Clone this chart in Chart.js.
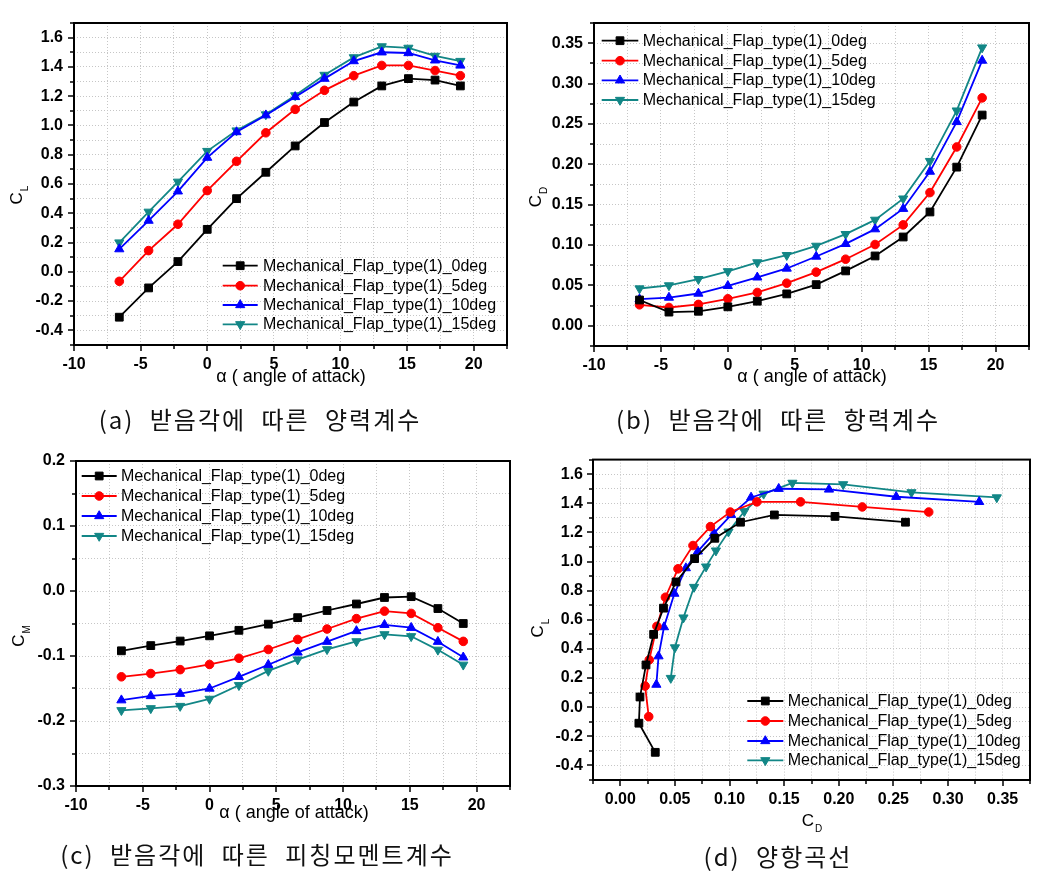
<!DOCTYPE html>
<html>
<head>
<meta charset="utf-8">
<script src="https://cdn.jsdelivr.net/npm/chart.js"></script>
<style>
  html, body { margin: 0; padding: 0; background: #fff; }
  #wrap { position: relative; width: 1047px; height: 880px; overflow: hidden; background: #fff; }
  canvas { position: absolute; }
  .cap { position: absolute; transform: translate(-50%, -50%); font-family: "Noto Sans CJK KR", sans-serif;
         font-size: 24px; letter-spacing: 2px; word-spacing: 8px; white-space: pre; color: #111; }
</style>
</head>
<body>
<div id="wrap">
  <canvas id="ca" width="520" height="440" style="left:0;top:0"></canvas>
  <canvas id="cb" width="527" height="440" style="left:520px;top:0"></canvas>
  <canvas id="cc" width="520" height="440" style="left:0;top:440px"></canvas>
  <canvas id="cd" width="527" height="440" style="left:520px;top:440px"></canvas>
  <div class="cap" style="left:260px;top:418px">(a) 받음각에 따른 양력계수</div>
  <div class="cap" style="left:778px;top:418px">(b) 받음각에 따른 항력계수</div>
  <div class="cap" style="left:257px;top:853px">(c) 받음각에 따른 피칭모멘트계수</div>
  <div class="cap" style="left:778px;top:855px">(d) 양항곡선</div>
</div>
<script>
// ---------------- data ----------------
const seriesNames = ['Mechanical_Flap_type(1)_0deg', 'Mechanical_Flap_type(1)_5deg',
                     'Mechanical_Flap_type(1)_10deg', 'Mechanical_Flap_type(1)_15deg'];
const alpha = [-6.6, -4.4, -2.2, 0.0, 2.2, 4.4, 6.6, 8.8, 11.0, 13.1, 15.1, 17.1, 19.0];

const cl0  = [-0.31, -0.11, 0.07, 0.29, 0.50, 0.68, 0.86, 1.02, 1.16, 1.27, 1.32, 1.31, 1.27];
const cl5  = [-0.065, 0.145, 0.325, 0.555, 0.755, 0.95, 1.11, 1.24, 1.34, 1.41, 1.41, 1.375, 1.34];
const cl10 = [0.155, 0.35, 0.55, 0.78, 0.955, 1.07, 1.195, 1.32, 1.44, 1.50, 1.495, 1.445, 1.41];
const cl15 = [0.20, 0.41, 0.615, 0.825, 0.965, 1.075, 1.205, 1.345, 1.465, 1.54, 1.53, 1.475, 1.44];

const cd0  = [0.032, 0.017, 0.018, 0.0235, 0.0305, 0.0395, 0.051, 0.068, 0.0865, 0.110, 0.141, 0.1965, 0.261];
const cd5  = [0.026, 0.0227, 0.0265, 0.0335, 0.0413, 0.0528, 0.0665, 0.0825, 0.1007, 0.125, 0.165, 0.2215, 0.2823];
const cd10 = [0.033, 0.035, 0.040, 0.0495, 0.060, 0.071, 0.0858, 0.1015, 0.1197, 0.145, 0.191, 0.2525, 0.3285];
const cd15 = [0.0462, 0.050, 0.0578, 0.0675, 0.0785, 0.0875, 0.099, 0.1135, 0.1312, 0.1575, 0.204, 0.2665, 0.3446];

const cm0  = [-0.092, -0.084, -0.077, -0.069, -0.0605, -0.051, -0.041, -0.030, -0.020, -0.010, -0.0087, -0.027, -0.050];
const cm5  = [-0.132, -0.127, -0.121, -0.113, -0.1035, -0.090, -0.0745, -0.0585, -0.0425, -0.031, -0.0345, -0.0565, -0.0775];
const cm10 = [-0.168, -0.1615, -0.158, -0.150, -0.132, -0.1135, -0.0945, -0.078, -0.0615, -0.052, -0.0565, -0.078, -0.102];
const cm15 = [-0.1835, -0.1805, -0.177, -0.166, -0.145, -0.123, -0.1055, -0.0897, -0.0775, -0.0667, -0.0697, -0.0905, -0.1135];

// ---------------- styles ----------------
const COLORS = ['#000000', '#ff0000', '#0000ff', '#128686'];
const MARKERS = [
  { style: 'rect', r: 5.5, rot: 0 },
  { style: 'circle', r: 4.3, rot: 0 },
  { style: 'triangle', r: 5.3, rot: 0 },
  { style: 'triangle', r: 5.3, rot: 180 }
];
const FONT = 'Liberation Sans, Arial, sans-serif';

function makeDataset(xs, ys, i) {
  return {
    label: seriesNames[i],
    data: xs.map((x, k) => ({ x: x, y: ys[k] })),
    borderColor: COLORS[i], backgroundColor: COLORS[i],
    borderWidth: 1.8,
    pointStyle: MARKERS[i].style, pointRadius: MARKERS[i].r, pointRotation: MARKERS[i].rot,
    pointBackgroundColor: COLORS[i], pointBorderColor: COLORS[i], pointBorderWidth: 1,
    pointHoverRadius: MARKERS[i].r,
    tension: 0, fill: false
  };
}

function drawMarker(ctx, i, x, y) {
  const m = MARKERS[i];
  ctx.save();
  ctx.fillStyle = COLORS[i]; ctx.strokeStyle = COLORS[i]; ctx.lineWidth = 1;
  ctx.beginPath();
  if (m.style === 'rect') {
    const s = Math.SQRT1_2 * m.r;
    ctx.rect(x - s, y - s, 2 * s, 2 * s);
  } else if (m.style === 'circle') {
    ctx.arc(x, y, m.r, 0, Math.PI * 2);
  } else {
    let rad = m.rot * Math.PI / 180;
    ctx.moveTo(x + Math.sin(rad) * m.r, y - Math.cos(rad) * m.r);
    rad += 2 * Math.PI / 3;
    ctx.lineTo(x + Math.sin(rad) * m.r, y - Math.cos(rad) * m.r);
    rad += 2 * Math.PI / 3;
    ctx.lineTo(x + Math.sin(rad) * m.r, y - Math.cos(rad) * m.r);
    ctx.closePath();
  }
  ctx.fill(); ctx.stroke();
  ctx.restore();
}

function drawSubText(ctx, x, y, main, sub, rotated, size) {
  ctx.save();
  ctx.translate(x, y);
  if (rotated) ctx.rotate(-Math.PI / 2);
  ctx.fillStyle = '#000';
  ctx.textAlign = 'left'; ctx.textBaseline = 'alphabetic';
  const mf = size + 'px ' + FONT, sf = Math.round(size * 0.6) + 'px ' + FONT;
  ctx.font = mf; const w1 = ctx.measureText(main).width;
  ctx.font = sf; const w2 = ctx.measureText(sub).width;
  const start = -(w1 + w2 + 1) / 2;
  ctx.font = mf; ctx.fillText(main, start, 0);
  ctx.font = sf; ctx.fillText(sub, start + w1 + 1, size * 0.38);
  ctx.restore();
}

function makeScale(pos, min, max, step, isMajor, fmt, size, pad) {
  return {
    type: 'linear', position: pos, min: min, max: max,
    afterFit: function (s) { if (pos === 'bottom') s.height = size; else s.width = size; },
    ticks: {
      stepSize: step, maxTicksLimit: 1000, autoSkip: false, maxRotation: 0, minRotation: 0,
      includeBounds: true, padding: pad, color: '#000',
      font: { family: FONT, size: 16, weight: 'bold' },
      callback: function (v) { return isMajor(v) ? fmt(v) : ''; }
    },
    grid: { color: '#c6c6c6', lineWidth: 1, drawTicks: false },
    border: { display: false, dash: [1, 2] }
  };
}

function decorPlugin(cfg) {
  return {
    id: 'decor',
    afterDraw: function (chart) {
      const ctx = chart.ctx, a = chart.chartArea, xs = chart.scales.x, ys = chart.scales.y;
      ctx.save();
      ctx.strokeStyle = '#000'; ctx.lineWidth = 1.5;
      xs.ticks.forEach(function (t) {
        const px = Math.round(xs.getPixelForValue(t.value));
        const len = cfg.xMajor(t.value) ? 6 : 4;
        ctx.beginPath(); ctx.moveTo(px, a.bottom); ctx.lineTo(px, a.bottom + len); ctx.stroke();
      });
      ys.ticks.forEach(function (t) {
        const py = Math.round(ys.getPixelForValue(t.value));
        const len = cfg.yMajor(t.value) ? 6 : 4;
        ctx.beginPath(); ctx.moveTo(a.left, py); ctx.lineTo(a.left - len, py); ctx.stroke();
      });
      ctx.lineWidth = 2;
      ctx.strokeRect(a.left, a.top, a.right - a.left, a.bottom - a.top);
      // legend
      const L = cfg.legend;
      for (let i = 0; i < 4; i++) {
        const yy = L.ys[i];
        ctx.strokeStyle = COLORS[i]; ctx.lineWidth = 1.8;
        ctx.beginPath(); ctx.moveTo(L.x0, yy); ctx.lineTo(L.x1, yy); ctx.stroke();
        drawMarker(ctx, i, (L.x0 + L.x1) / 2, yy);
        ctx.fillStyle = '#000'; ctx.font = '16px ' + FONT;
        ctx.textAlign = 'left'; ctx.textBaseline = 'middle';
        ctx.fillText(seriesNames[i], L.tx, yy + 0.5);
      }
      // axis titles
      if (cfg.xTitle.text) {
        ctx.fillStyle = '#000'; ctx.font = '18px ' + FONT;
        ctx.textAlign = 'center'; ctx.textBaseline = 'middle';
        ctx.fillText(cfg.xTitle.text, cfg.xTitle.x, cfg.xTitle.y);
      } else {
        drawSubText(ctx, cfg.xTitle.x, cfg.xTitle.y, cfg.xTitle.main, cfg.xTitle.sub, false, 17);
      }
      drawSubText(ctx, cfg.yTitle.x, cfg.yTitle.y, cfg.yTitle.main, cfg.yTitle.sub, true, 17);
      ctx.restore();
    }
  };
}

function makeChart(id, datasets, xScale, yScale, padding, cfg) {
  return new Chart(document.getElementById(id), {
    type: 'line',
    data: { datasets: datasets },
    options: {
      responsive: false, animation: false, devicePixelRatio: 1,
      layout: { padding: padding },
      plugins: { legend: { display: false }, tooltip: { enabled: false }, title: { display: false } },
      scales: { x: xScale, y: yScale }
    },
    plugins: [decorPlugin(cfg)]
  });
}

// tick helpers
const alphaMajor = v => Math.round(v * 10) % 50 === 0;
const alphaFmt = v => String(Math.round(v));
const step02Major = v => Math.round(v * 10) % 2 === 0;
const fmt1 = v => (Math.round(v * 10) / 10).toFixed(1);
const step05Major = v => Math.round(v * 1000) % 50 === 0;
const fmt2 = v => (Math.round(v * 100) / 100).toFixed(2);
const step01Major = v => Math.round(v * 100) % 10 === 0;

const ALPHA_TITLE = 'α ( angle of attack)';

// (a) CL vs alpha
makeChart('ca',
  [cl0, cl5, cl10, cl15].map((ys, i) => makeDataset(alpha, ys, i)),
  makeScale('bottom', -10, 22.5, 2.5, alphaMajor, alphaFmt, 40, 10),
  makeScale('left', -0.5, 1.7, 0.1, step02Major, fmt1, 74, 11),
  { left: 0, right: 13, top: 23, bottom: 55 },
  { xMajor: alphaMajor, yMajor: step02Major,
    legend: { x0: 222.7, x1: 257.7, tx: 263, ys: [265.7, 285.7, 305, 324.3] },
    xTitle: { text: ALPHA_TITLE, x: 291, y: 377 },
    yTitle: { main: 'C', sub: 'L', x: 22, y: 195 } });

// (b) CD vs alpha
makeChart('cb',
  [cd0, cd5, cd10, cd15].map((ys, i) => makeDataset(alpha, ys, i)),
  makeScale('bottom', -10, 22.5, 2.5, alphaMajor, alphaFmt, 40, 10),
  makeScale('left', -0.025, 0.375, 0.025, step05Major, fmt2, 74, 11),
  { left: 0, right: 18, top: 23, bottom: 54 },
  { xMajor: alphaMajor, yMajor: step05Major,
    legend: { x0: 81.7, x1: 118.3, tx: 122.7, ys: [40.7, 60.7, 80.3, 100] },
    xTitle: { text: ALPHA_TITLE, x: 292, y: 377 },
    yTitle: { main: 'C', sub: 'D', x: 21, y: 197 } });

// (c) CM vs alpha
makeChart('cc',
  [cm0, cm5, cm10, cm15].map((ys, i) => makeDataset(alpha, ys, i)),
  makeScale('bottom', -10, 22.5, 2.5, alphaMajor, alphaFmt, 40, 10),
  makeScale('left', -0.3, 0.2, 0.05, step01Major, fmt1, 76, 11),
  { left: 0, right: 10, top: 21, bottom: 54 },
  { xMajor: alphaMajor, yMajor: step01Major,
    legend: { x0: 81.7, x1: 116.7, tx: 121, ys: [36, 56, 76, 96] },
    xTitle: { text: ALPHA_TITLE, x: 294, y: 373 },
    yTitle: { main: 'C', sub: 'M', x: 24, y: 196 } });

// (d) CL vs CD (drag polar)
makeChart('cd',
  [0, 1, 2, 3].map(i => makeDataset([cd0, cd5, cd10, cd15][i], [cl0, cl5, cl10, cl15][i], i)),
  makeScale('bottom', -0.025, 0.375, 0.025, step05Major, fmt2, 40, 10),
  makeScale('left', -0.5, 1.7, 0.1, step02Major, fmt1, 73, 10),
  { left: 0, right: 17, top: 15, bottom: 60 },
  { xMajor: step05Major, yMajor: step02Major,
    legend: { x0: 227.3, x1: 263.3, tx: 267.7, ys: [261, 281, 301, 320.3] },
    xTitle: { main: 'C', sub: 'D', x: 292, y: 386 },
    yTitle: { main: 'C', sub: 'L', x: 23, y: 188 } });
</script>
</body>
</html>
